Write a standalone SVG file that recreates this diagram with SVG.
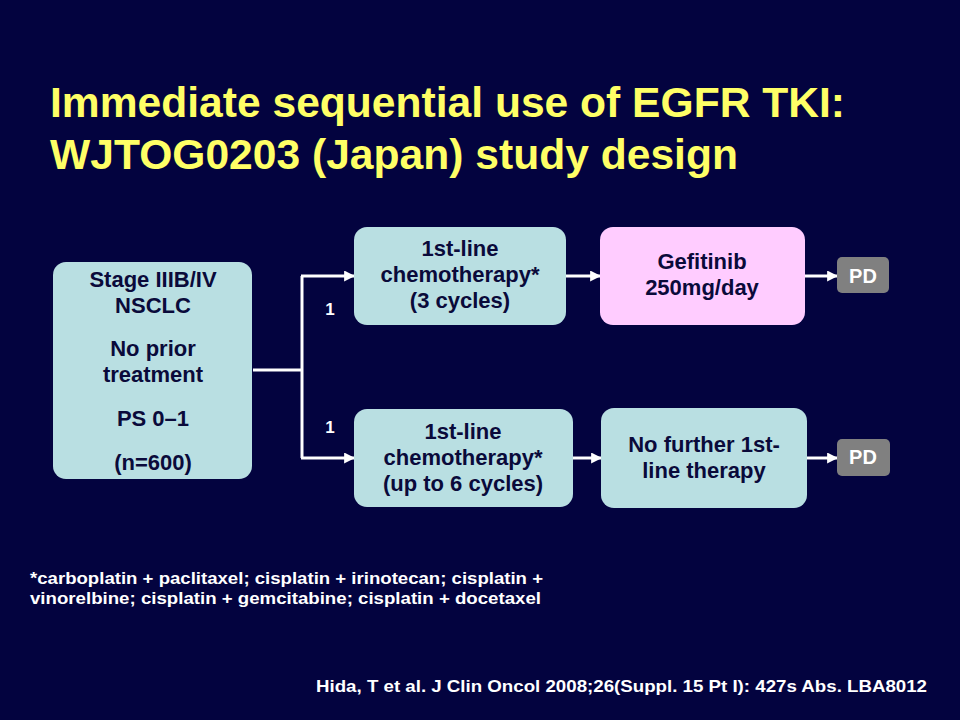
<svg xmlns="http://www.w3.org/2000/svg" width="960" height="720" viewBox="0 0 960 720">
<defs>
<marker id="arr" viewBox="0 0 10 10" refX="9" refY="5" markerWidth="11" markerHeight="11" markerUnits="userSpaceOnUse" orient="auto">
<path d="M0,0 L10,5 L0,10 z" fill="#ffffff"/>
</marker>
<style>
.t{font-family:"Liberation Sans",Arial,sans-serif;font-weight:bold;}
.title{fill:#ffff66;font-size:42px;}
.bx{fill:#b9dfe2;}
.pk{fill:#ffccff;}
.pd{fill:#808080;}
.bt{fill:#0a0a3a;font-size:22px;text-anchor:middle;}
.wt{fill:#ffffff;}
.ln{stroke:#ffffff;stroke-width:3;fill:none;}
</style>
</defs>
<rect x="0" y="0" width="960" height="720" fill="#03033f"/>
<text class="t title" x="50" y="117" textLength="795" lengthAdjust="spacingAndGlyphs">Immediate sequential use of EGFR TKI:</text>
<text class="t title" x="50" y="169" textLength="688" lengthAdjust="spacingAndGlyphs">WJTOG0203 (Japan) study design</text>

<g id="connectors">
<polyline class="ln" points="253,370 302,370"/>
<polyline class="ln" points="302,276 302,458"/>
<line class="ln" x1="301" y1="276" x2="354" y2="276" marker-end="url(#arr)"/>
<line class="ln" x1="301" y1="458" x2="354" y2="458" marker-end="url(#arr)"/>
<line class="ln" x1="566" y1="276" x2="600" y2="276" marker-end="url(#arr)"/>
<line class="ln" x1="805" y1="276" x2="837" y2="276" marker-end="url(#arr)"/>
<line class="ln" x1="573" y1="458" x2="601" y2="458" marker-end="url(#arr)"/>
<line class="ln" x1="807" y1="458" x2="837" y2="458" marker-end="url(#arr)"/>
<text class="t wt" x="330" y="315" font-size="17" text-anchor="middle">1</text>
<text class="t wt" x="330" y="433" font-size="17" text-anchor="middle">1</text>
</g>

<g id="n-population">
<rect class="bx" x="53" y="262" width="199" height="217" rx="13"/>
<text class="t bt" x="153" y="287">Stage IIIB/IV</text>
<text class="t bt" x="153" y="313">NSCLC</text>
<text class="t bt" x="153" y="356">No prior</text>
<text class="t bt" x="153" y="382">treatment</text>
<text class="t bt" x="153" y="426">PS 0–1</text>
<text class="t bt" x="153" y="470">(n=600)</text>
</g>

<g id="n-chemo3">
<rect class="bx" x="354" y="227" width="212" height="98" rx="13"/>
<text class="t bt" x="460" y="256">1st-line</text>
<text class="t bt" x="460" y="282">chemotherapy*</text>
<text class="t bt" x="460" y="308">(3 cycles)</text>
</g>

<g id="n-gefitinib">
<rect class="pk" x="600" y="227" width="205" height="98" rx="13"/>
<text class="t bt" x="702" y="269">Gefitinib</text>
<text class="t bt" x="702" y="295">250mg/day</text>
</g>

<g id="n-pd1">
<rect class="pd" x="837" y="257" width="52" height="36" rx="5"/>
<text class="t wt" x="863" y="283" font-size="20" text-anchor="middle">PD</text>
</g>

<g id="n-chemo6">
<rect class="bx" x="354" y="409" width="219" height="98" rx="13"/>
<text class="t bt" x="463" y="439">1st-line</text>
<text class="t bt" x="463" y="465">chemotherapy*</text>
<text class="t bt" x="463" y="491">(up to 6 cycles)</text>
</g>

<g id="n-nofurther">
<rect class="bx" x="601" y="408" width="206" height="100" rx="13"/>
<text class="t bt" x="704" y="452">No further 1st-</text>
<text class="t bt" x="704" y="478">line therapy</text>
</g>

<g id="n-pd2">
<rect class="pd" x="837" y="439" width="53" height="37" rx="5"/>
<text class="t wt" x="863" y="464" font-size="20" text-anchor="middle">PD</text>
</g>

<text class="t wt" x="30" y="584" font-size="17" textLength="513" lengthAdjust="spacingAndGlyphs">*carboplatin + paclitaxel; cisplatin + irinotecan; cisplatin +</text>
<text class="t wt" x="30" y="604" font-size="17" textLength="511" lengthAdjust="spacingAndGlyphs">vinorelbine; cisplatin + gemcitabine; cisplatin + docetaxel</text>
<text class="t wt" x="316" y="692" font-size="17" textLength="611" lengthAdjust="spacingAndGlyphs">Hida, T et al. J Clin Oncol 2008;26(Suppl. 15 Pt I): 427s Abs. LBA8012</text>
</svg>
